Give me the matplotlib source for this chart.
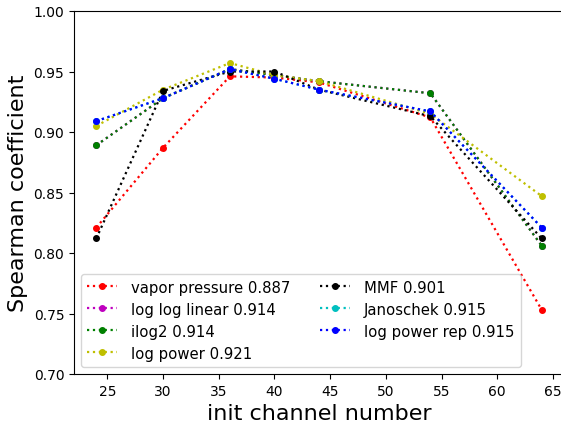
import matplotlib
matplotlib.use("Agg")
import matplotlib.pyplot as plt

channels = [24, 30, 36, 40, 44, 54, 64]
vapor_pressure = [0.821, 0.887, 0.946, 0.945, 0.941, 0.912, 0.753]
log_log_linear = [0.889, 0.928, 0.952, 0.947, 0.942, 0.932, 0.806]
ilog2 = [0.889, 0.928, 0.952, 0.947, 0.942, 0.932, 0.806]
log_power = [0.905, 0.935, 0.957, 0.947, 0.942, 0.915, 0.847]
mmf = [0.812, 0.934, 0.950, 0.950, 0.935, 0.913, 0.812]
janoschek = [0.909, 0.928, 0.952, 0.944, 0.935, 0.917, 0.821]
log_power_rep = [0.909, 0.928, 0.952, 0.944, 0.935, 0.917, 0.821]

series = [
    ("vapor pressure 0.887", vapor_pressure, "r"),
    ("log log linear 0.914", log_log_linear, "m"),
    ("ilog2 0.914", ilog2, "g"),
    ("log power 0.921", log_power, "y"),
    ("MMF 0.901", mmf, "k"),
    ("Janoschek 0.915", janoschek, "c"),
    ("log power rep 0.915", log_power_rep, "b"),
]

fig = plt.figure(figsize=(5.61, 4.27), dpi=100)
ax = fig.add_axes([74/561, 52/427, (564-74)/561, (375-12)/427])
for label, vals, c in series:
    ax.plot(channels, vals, linestyle=":", marker=".", color=c, label=label,
            linewidth=1.6, markersize=8)

ax.set_xlim(22, 66)
ax.set_ylim(0.70, 1.00)
ax.set_xticks([25, 30, 35, 40, 45, 50, 55, 60, 65])
ax.set_yticks([0.70, 0.75, 0.80, 0.85, 0.90, 0.95, 1.00])
ax.set_yticklabels(["0.70", "0.75", "0.80", "0.85", "0.90", "0.95", "1.00"])
ax.tick_params(labelsize=10)
ax.spines["right"].set_visible(False)
ax.set_xlabel("init channel number", fontsize=16)
ax.set_ylabel("Spearman coefficient", fontsize=16)
ax.legend(loc="lower left", ncol=2, fontsize=10.7, labelspacing=0.47,
          handletextpad=0.95)
fig.savefig("out.png", dpi=100)
